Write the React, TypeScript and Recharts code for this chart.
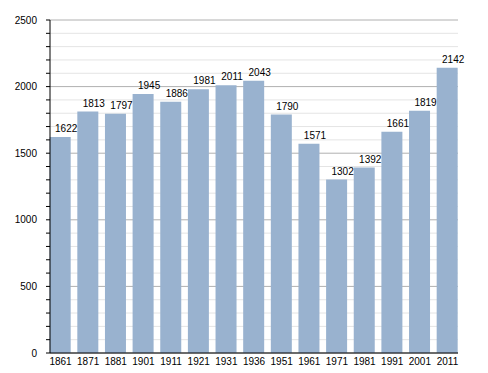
import React from 'react';
import { BarChart, Bar, XAxis, YAxis, CartesianGrid, LabelList } from 'recharts';

const years = ['1861', '1871', '1881', '1901', '1911', '1921', '1931', '1936', '1951', '1961', '1971', '1981', '1991', '2001', '2011'];
const population = [1622, 1813, 1797, 1945, 1886, 1981, 2011, 2043, 1790, 1571, 1302, 1392, 1661, 1819, 2142];
const yMax = 2500;
const minorStep = 100;
const majorStep = 500;
const minorTicks = Array.from({ length: yMax / minorStep + 1 }, (_, i) => i * minorStep);

const data = years.map((y, i) => ({ year: y, value: population[i] }));

const FONT = '"Liberation Sans", Arial, sans-serif';

const YTick = (props: any) => {
  const { x, y, payload } = props;
  if (payload.value % majorStep !== 0) return null;
  return (
    <text x={x} y={y} dy="0.355em" textAnchor="end" fontSize={10} fontFamily={FONT} fill="#000">
      {payload.value}
    </text>
  );
};

const GridLine = (props: any) => {
  const { x1, x2, y1, y2, y, height } = props;
  const v = Math.round(((y + height - y1) / height) * yMax);
  const major = v % majorStep === 0;
  return (
    <line x1={x1} x2={x2} y1={y1} y2={y2} stroke={major ? '#b0b0b0' : '#e4e4e4'} strokeWidth={1} />
  );
};

export default function App() {
  return (
    <div style={{ position: 'absolute', left: 0, top: 0, background: '#fff' }}>
      <BarChart
        width={488}
        height={373}
        data={data}
        margin={{ top: 20, right: 30, bottom: 0, left: 0 }}
        barSize={21}
      >
        <CartesianGrid vertical={false} horizontal={(p: any) => <GridLine key={p.key} {...p} />} />
        <XAxis
          dataKey="year"
          height={20}
          padding={{ left: -3.32, right: -3.32 }}
          tickLine={false}
          tickSize={0}
          tickMargin={5}
          axisLine={{ stroke: '#000' }}
          tick={{ fontSize: 10, fontFamily: FONT, fill: '#000' }}
          interval={0}
        />
        <YAxis
          width={50}
          domain={[0, yMax]}
          ticks={minorTicks}
          interval={0}
          tickSize={4}
          tickMargin={9}
          axisLine={{ stroke: '#000' }}
          tickLine={{ stroke: '#000' }}
          tick={<YTick />}
        />
        <Bar dataKey="value" fill="#99b2cf" isAnimationActive={false}>
          <LabelList
            dataKey="value"
            position="top"
            offset={5}
            dx={6}
            fontSize={10}
            fontFamily={FONT}
            fill="#000"
          />
        </Bar>
      </BarChart>
    </div>
  );
}
